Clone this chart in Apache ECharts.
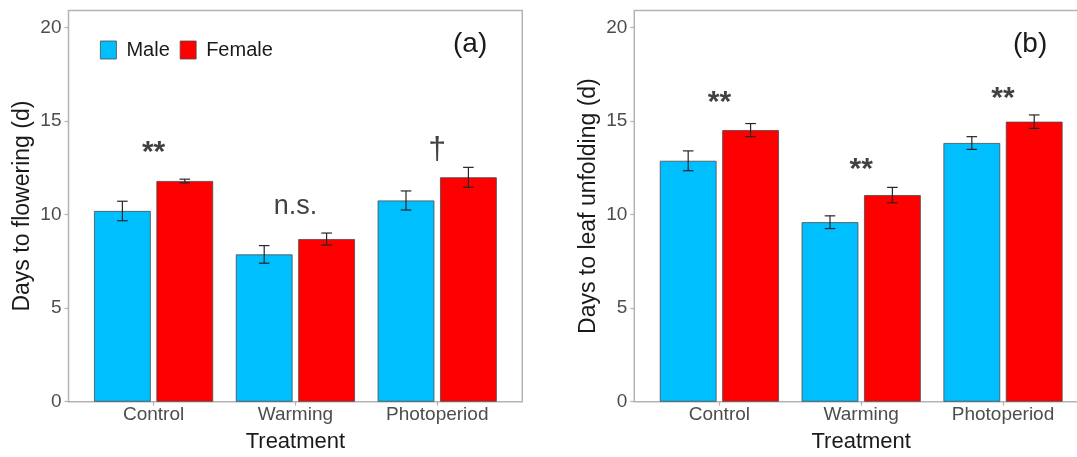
<!DOCTYPE html>
<html>
<head>
<meta charset="utf-8">
<script src="https://cdn.jsdelivr.net/npm/echarts@6/dist/echarts.min.js"></script>
<style>
html,body{margin:0;padding:0;background:#fff;}
#chart{width:1077px;height:457px;}
</style>
</head>
<body>
<div id="chart"></div>
<script>
// ---- data ----
const categories = ['Control', 'Warming', 'Photoperiod'];
const seriesNames = ['Male', 'Female'];
const yTicks = [0, 5, 10, 15, 20];

const flowerMale = [10.19, 7.87, 10.75];
const flowerFemale = [11.79, 8.69, 11.99];
const flowerMaleSE = [0.52, 0.47, 0.51];
const flowerFemaleSE = [0.10, 0.32, 0.53];

const leafMale = [12.87, 9.59, 13.82];
const leafFemale = [14.51, 11.04, 14.96];
const leafMaleSE = [0.53, 0.34, 0.34];
const leafFemaleSE = [0.35, 0.41, 0.36];

const flowerSig = ['**', 'n.s.', '\u2020'];
const flowerSigY = [13.3, 10.45, 13.45];
const leafSig = ['**', '**', '**'];
const leafSigY = [15.95, 12.4, 16.2];

const panelTags = ['(a)', '(b)'];
const yTitles = ['Days to flowering (d)', 'Days to leaf unfolding (d)'];
const xTitle = 'Treatment';

// ---- styling ----
const FONT = 'Liberation Sans';
const MALE = '#00BFFF', FEMALE = '#FF0000';
const BORDER = '#b3b3b3';
const BAR_W = 0.40, BAR_GAP = 0.10;
const OFF = (BAR_W + BAR_W * BAR_GAP) / 2;

const boxLeft = [68.5, 634.3];
const boxW = 453.8;
const boxDrawW = [453.8, 480];
const pad = boxW / 3.2 * 0.1;
const plotTop = 10.5, plotH = 391.2;

const chart = echarts.init(document.getElementById('chart'));

function errSeries(xi, yi, vals, se, side, name) {
  return {
    type: 'custom', name: name, xAxisIndex: xi, yAxisIndex: yi, silent: true, z: 5,
    data: vals.map((v, i) => [i, v - se[i], v + se[i]]),
    renderItem: function (params, api) {
      const i = api.value(0);
      const hiP = api.coord([i, api.value(2)]);
      const loP = api.coord([i, api.value(1)]);
      const band = api.size([1, 0])[0];
      const x = hiP[0] + side * band * OFF;
      const cap = 5.3;
      const st = { stroke: '#262626', lineWidth: 1.2 };
      return { type: 'group', children: [
        { type: 'line', shape: { x1: x, y1: hiP[1], x2: x, y2: loP[1] }, style: st },
        { type: 'line', shape: { x1: x - cap, y1: hiP[1], x2: x + cap, y2: hiP[1] }, style: st },
        { type: 'line', shape: { x1: x - cap, y1: loP[1], x2: x + cap, y2: loP[1] }, style: st }
      ]};
    }
  };
}

function barSeries(xi, yi, name, vals, color) {
  return {
    type: 'bar', name: name, xAxisIndex: xi, yAxisIndex: yi,
    data: vals, barWidth: (BAR_W * 100) + '%', barGap: (BAR_GAP * 100) + '%',
    itemStyle: { color: color, borderColor: '#4a4a4a', borderWidth: 0.8 },
    emphasis: { disabled: true }
  };
}

function sigStyle(t) {
  if (t === '**') return { fontSize: 30, fontWeight: 'bold' };
  if (t === '\u2020') return { fontSize: 32, fontWeight: 'normal' };
  return { fontSize: 27, fontWeight: 'normal' };
}

function sigSeries(xi, yi, labels, ys) {
  return {
    type: 'scatter', xAxisIndex: xi, yAxisIndex: yi, symbolSize: 0, silent: true, z: 6,
    data: ys.map((y, i) => ({ value: [i, y], lbl: labels[i], label: sigStyle(labels[i]) })),
    label: {
      show: true, position: 'inside', align: 'center', verticalAlign: 'middle',
      fontFamily: FONT, color: '#111',
      formatter: p => p.data.lbl
    }
  };
}

const grids = [], xAxes = [], yAxes = [];
[0, 1].forEach(p => {
  grids.push({ left: boxLeft[p] + pad, top: plotTop, width: boxW - 2 * pad, height: plotH,
    outerBoundsMode: 'none' });
  grids.push({ left: boxLeft[p], top: plotTop, width: boxDrawW[p], height: plotH, show: true,
    outerBoundsMode: 'none',
    borderColor: BORDER, borderWidth: 1.5, backgroundColor: 'transparent' });
  xAxes.push({
    type: 'category', gridIndex: 2 * p, data: categories,
    axisLine: { show: false },
    axisTick: { show: true, alignWithLabel: true, length: 4, lineStyle: { color: BORDER, width: 1.2 } },
    axisLabel: { color: '#4d4d4d', fontFamily: FONT, fontSize: 19, margin: 4 },
    name: xTitle, nameLocation: 'middle', nameGap: 29,
    nameTextStyle: { color: '#1a1a1a', fontFamily: FONT, fontSize: 22 }
  });
  xAxes.push({ type: 'value', gridIndex: 2 * p + 1, show: false, min: 0, max: 1 });
  yAxes.push({
    type: 'value', gridIndex: 2 * p, min: 0, max: 20.9, offset: pad,
    axisLine: { show: false },
    axisTick: { show: true, length: 4, customValues: yTicks, lineStyle: { color: BORDER, width: 1.2 } },
    axisLabel: { color: '#4d4d4d', fontFamily: FONT, fontSize: 19, margin: 7, customValues: yTicks },
    splitLine: { show: false },
    name: yTitles[p], nameLocation: 'middle', nameGap: 34,
    nameTextStyle: { color: '#1a1a1a', fontFamily: FONT, fontSize: 23 }
  });
  yAxes.push({ type: 'value', gridIndex: 2 * p + 1, show: false, min: 0, max: 1 });
});

const series = [
  barSeries(0, 0, seriesNames[0], flowerMale, MALE),
  barSeries(0, 0, seriesNames[1], flowerFemale, FEMALE),
  errSeries(0, 0, flowerMale, flowerMaleSE, -1, 'errM1'),
  errSeries(0, 0, flowerFemale, flowerFemaleSE, 1, 'errF1'),
  sigSeries(0, 0, flowerSig, flowerSigY),
  barSeries(2, 2, seriesNames[0], leafMale, MALE),
  barSeries(2, 2, seriesNames[1], leafFemale, FEMALE),
  errSeries(2, 2, leafMale, leafMaleSE, -1, 'errM2'),
  errSeries(2, 2, leafFemale, leafFemaleSE, 1, 'errF2'),
  sigSeries(2, 2, leafSig, leafSigY)
];

chart.setOption({
  animation: false,
  textStyle: { fontFamily: FONT },
  grid: grids,
  xAxis: xAxes,
  yAxis: yAxes,
  legend: {
    data: seriesNames, left: 100, top: 40, padding: 0, icon: 'rect', itemWidth: 16, itemHeight: 18,
    itemGap: 10, selectedMode: false,
    itemStyle: { borderColor: '#4a4a4a', borderWidth: 0.8 },
    textStyle: { fontFamily: FONT, fontSize: 20, color: '#1a1a1a', padding: [0, 0, 0, 5] }
  },
  title: [
    { text: panelTags[0], left: 453, top: 30, padding: 0, textStyle: { fontFamily: FONT, fontSize: 28, fontWeight: 'normal', color: '#1a1a1a' } },
    { text: panelTags[1], left: 1013, top: 30, padding: 0, textStyle: { fontFamily: FONT, fontSize: 28, fontWeight: 'normal', color: '#1a1a1a' } }
  ],
  series: series
});
</script>
</body>
</html>
